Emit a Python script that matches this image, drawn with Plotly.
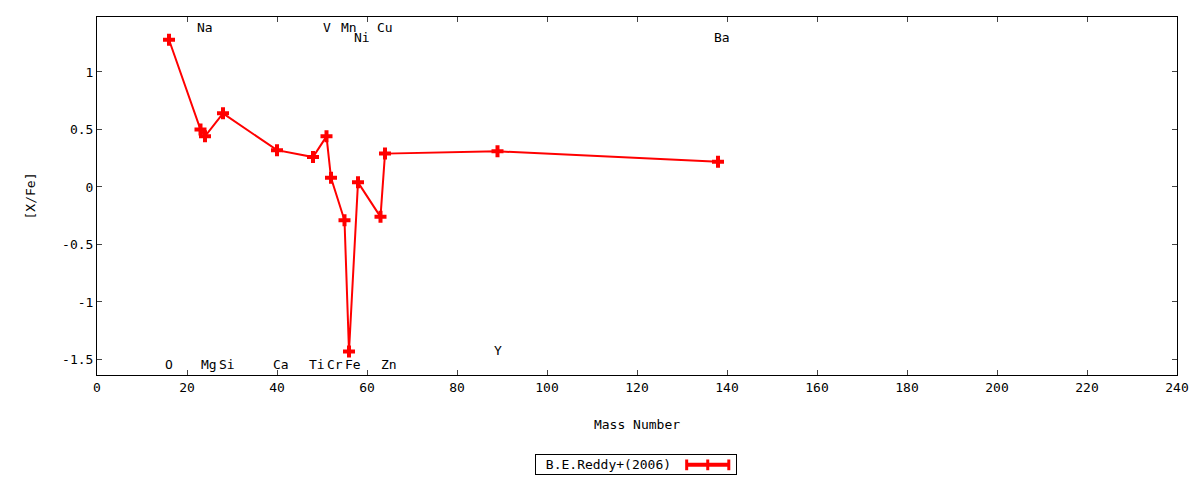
import plotly.graph_objects as go

# element abundances [X/Fe] vs mass number
elements = ["O", "Na", "Mg", "Si", "Ca", "Ti", "V", "Cr", "Mn", "Fe", "Ni", "Cu", "Zn", "Y", "Ba"]
mass = [16, 23, 24, 28, 40, 48, 51, 52, 55, 56, 58, 63, 64, 89, 138]
x_fe = [1.28, 0.50, 0.44, 0.64, 0.32, 0.26, 0.44, 0.08, -0.29, -1.43, 0.04, -0.26, 0.29, 0.31, 0.22]

# label heights (gnuplot style labels at top / bottom of the box)
label_y = [-1.54, 1.39, -1.54, -1.54, -1.54, -1.54, 1.39, -1.54, 1.39, -1.54, 1.30, 1.39, -1.54, -1.42, 1.30]

x_ticks = list(range(0, 241, 20))
y_ticks = [-1.5, -1, -0.5, 0, 0.5, 1]
y_tick_text = ["-1.5", "-1", "-0.5", "0", "0.5", "1"]

FONT = "DejaVu Sans Mono"
FS = 13

fig = go.Figure()
fig.add_trace(go.Scatter(
    x=mass, y=x_fe, mode="lines+markers", name="B.E.Reddy+(2006)",
    line=dict(color="#ff0000", width=2),
    marker=dict(symbol="cross", size=10, color="#ff0000"),
    showlegend=False,
))

for el, m, ly in zip(elements, mass, label_y):
    fig.add_annotation(x=m - 1.3, y=ly, text=el, showarrow=False, xanchor="left", yanchor="middle",
                       font=dict(family=FONT, size=FS, color="black"))

# legend box drawn by hand (text first, sample line after, like gnuplot)
fig.add_annotation(xref="paper", yref="paper", x=0.4056, y=-0.251, xanchor="left", yanchor="middle",
                   text=" B.E.Reddy+(2006)", showarrow=False, width=196, align="left",
                   font=dict(family=FONT, size=FS, color="black"),
                   bordercolor="black", borderwidth=1, borderpad=2)
fig.add_shape(type="line", xref="paper", yref="paper", x0=0.546, x1=0.585, y0=-0.251, y1=-0.251,
              line=dict(color="#ff0000", width=4))
for xs in [0.546, 0.5655, 0.585]:
    fig.add_shape(type="line", xref="paper", yref="paper", x0=xs, x1=xs, y0=-0.236, y1=-0.266,
                  line=dict(color="#ff0000", width=3))

# page body adds ~8px, margins compensate for it
fig.update_layout(
    width=1200, height=480,
    margin=dict(l=89, r=31, t=9, b=113),
    plot_bgcolor="white", paper_bgcolor="white",
    font=dict(family=FONT, size=FS, color="black"),
    showlegend=False,
)
fig.update_xaxes(
    range=[0, 240], tickvals=x_ticks, ticks="inside", ticklen=5, mirror="allticks", automargin=False,
    showline=True, linecolor="black", linewidth=1, showgrid=False, zeroline=False,
    tickfont=dict(family=FONT, size=FS),
    title=dict(text="Mass Number", standoff=26, font=dict(family=FONT, size=FS)),
)
fig.update_yaxes(
    range=[-1.635, 1.478], tickvals=y_ticks, ticktext=y_tick_text, ticks="inside", ticklen=5,
    mirror="allticks", showline=True, linecolor="black", linewidth=1, showgrid=False, zeroline=False,
    automargin=False, tickfont=dict(family=FONT, size=FS),
    title=dict(text="[X/Fe]", standoff=23, font=dict(family=FONT, size=FS)),
)

fig.write_html("out.html")
